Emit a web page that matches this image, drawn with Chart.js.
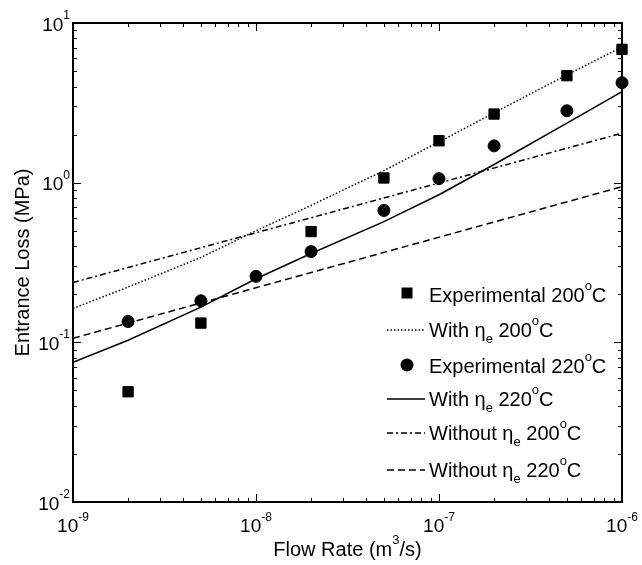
<!DOCTYPE html>
<html>
<head>
<meta charset="utf-8">
<script src="https://cdn.jsdelivr.net/npm/chart.js@4.4.1/dist/chart.umd.min.js"></script>
<style>
  html, body { margin: 0; padding: 0; background: #fff; }
  #wrap { width: 642px; height: 565px; }
</style>
</head>
<body>
<div id="wrap"><canvas id="chart" width="642" height="565"></canvas></div>
<script>
// DATA (flow rate in m3/s, entrance loss in MPa)
const flowSquares = [2e-9, 5e-9, 2e-8, 5e-8, 1e-7, 2e-7, 5e-7, 1e-6];
const flowCircles = [2e-9, 5e-9, 1e-8, 2e-8, 5e-8, 1e-7, 2e-7, 5e-7, 1e-6];
const flowModel = [1e-9, 2e-9, 5e-9, 1e-8, 2e-8, 5e-8, 1e-7, 2e-7, 5e-7, 1e-6];
const flowEnds = [1e-9, 1e-6];

const exp200 = [0.049, 0.132, 0.494, 1.07, 1.83, 2.69, 4.68, 6.84];
const exp220 = [0.135, 0.182, 0.259, 0.37, 0.67, 1.06, 1.70, 2.82, 4.23];
const with200 = [0.163, 0.222, 0.34, 0.50, 0.72, 1.19, 1.80, 2.74, 4.73, 7.08];
const with220 = [0.075, 0.103, 0.166, 0.25, 0.36, 0.57, 0.84, 1.30, 2.36, 3.71];
const without200 = [0.237, 2.04];
const without220 = [0.106, 0.944];

// tick labels: 10^exp
const xTickExps = [-9, -8, -7, -6];
const yTickExps = [-2, -1, 0, 1];

const legendLabels = [
  [['Experimental 200', ''], ['o', 'sup'], ['C', '']],
  [['With \u03b7', ''], ['e', 'sub'], [' 200', ''], ['o', 'sup'], ['C', '']],
  [['Experimental 220', ''], ['o', 'sup'], ['C', '']],
  [['With \u03b7', ''], ['e', 'sub'], [' 220', ''], ['o', 'sup'], ['C', '']],
  [['Without \u03b7', ''], ['e', 'sub'], [' 200', ''], ['o', 'sup'], ['C', '']],
  [['Without \u03b7', ''], ['e', 'sub'], [' 220', ''], ['o', 'sup'], ['C', '']]
];
const legendKinds = ['square', [1.5, 2], 'circle', [], [6, 3, 2, 3], [7, 4]];

const FONT = '"Liberation Sans", Arial, sans-serif';

function pts(xs, ys) {
  return xs.map((x, i) => ({ x: x, y: ys[i] }));
}

function partFont(kind, size) {
  const s = kind ? Math.round(size * 0.65) : size;
  return s + 'px ' + FONT;
}

function partsWidth(ctx, parts, size) {
  let w = 0;
  parts.forEach(p => {
    ctx.font = partFont(p[1], size);
    w += ctx.measureText(p[0]).width;
  });
  return w;
}

// draws text with super/subscripts
function drawParts(ctx, parts, x, y, size, align, rotate) {
  ctx.save();
  ctx.translate(x, y);
  if (rotate) ctx.rotate(-Math.PI / 2);
  ctx.fillStyle = '#000';
  ctx.textBaseline = 'alphabetic';
  ctx.textAlign = 'left';
  const w = partsWidth(ctx, parts, size);
  let cx = align === 'center' ? -w / 2 : align === 'right' ? -w : 0;
  parts.forEach(p => {
    ctx.font = partFont(p[1], size);
    let dy = 0;
    if (p[1] === 'sup') dy = -size * 0.6;
    if (p[1] === 'sub') dy = size * 0.32;
    ctx.fillText(p[0], cx, dy);
    cx += ctx.measureText(p[0]).width;
  });
  ctx.restore();
}

const framePlugin = {
  id: 'frame',
  afterDatasetsDraw(chart) {
    const ctx = chart.ctx;
    const a = chart.chartArea;
    const xs = chart.scales.x;
    const ys = chart.scales.y;
    ctx.save();
    ctx.strokeStyle = '#000';

    // ticks, all four sides, pointing inward
    ctx.lineWidth = 1;
    ctx.beginPath();
    for (let e = -9; e < -6; e++) {
      for (let m = 1; m < 10; m++) {
        const px = Math.round(xs.getPixelForValue(m * Math.pow(10, e))) + 0.5;
        const len = m === 1 ? 8 : 4;
        ctx.moveTo(px, a.bottom); ctx.lineTo(px, a.bottom - len);
        ctx.moveTo(px, a.top); ctx.lineTo(px, a.top + len);
      }
    }
    for (let e = -2; e < 1; e++) {
      for (let m = 1; m < 10; m++) {
        const py = Math.round(ys.getPixelForValue(m * Math.pow(10, e))) + 0.5;
        const len = m === 1 ? 8 : 4;
        ctx.moveTo(a.left, py); ctx.lineTo(a.left + len, py);
        ctx.moveTo(a.right, py); ctx.lineTo(a.right - len, py);
      }
    }
    ctx.stroke();

    // box
    ctx.lineWidth = 2;
    ctx.strokeRect(a.left, a.top, a.right - a.left, a.bottom - a.top);

    // tick labels
    xTickExps.forEach(e => {
      const px = xs.getPixelForValue(Math.pow(10, e));
      drawParts(ctx, [['10', ''], [String(e), 'sup']], px, 532, 19, 'center');
    });
    yTickExps.forEach(e => {
      const py = ys.getPixelForValue(Math.pow(10, e));
      drawParts(ctx, [['10', ''], [String(e), 'sup']], 70, py + 7.5, 19, 'right');
    });

    // axis titles
    drawParts(ctx, [['Flow Rate (m', ''], ['3', 'sup'], ['/s)', '']], (a.left + a.right) / 2, 556, 20, 'center');
    drawParts(ctx, [['Entrance Loss (MPa)', '']], 29, (a.top + a.bottom) / 2, 20, 'center', true);

    // legend
    const rows = [295, 330, 366, 399, 433, 470];
    legendLabels.forEach((lab, i) => {
      const y = rows[i];
      const kind = legendKinds[i];
      ctx.fillStyle = '#000';
      if (kind === 'square') {
        ctx.fillRect(407 - 5.5, y - 2 - 5.5, 11, 11);
      } else if (kind === 'circle') {
        ctx.beginPath();
        ctx.arc(407, y - 1, 6.5, 0, Math.PI * 2);
        ctx.fill();
      } else {
        ctx.lineWidth = 1.5;
        ctx.setLineDash(kind);
        ctx.beginPath();
        ctx.moveTo(387, y);
        ctx.lineTo(425, y);
        ctx.stroke();
        ctx.setLineDash([]);
      }
      drawParts(ctx, lab, 429, y + 7, 20, 'left');
    });
    ctx.restore();
  }
};

function lineSet(data, dash) {
  return {
    data: data,
    showLine: true,
    borderColor: '#000',
    borderWidth: 1.5,
    borderDash: dash,
    pointRadius: 0,
    fill: false,
    tension: 0,
    order: 2
  };
}

new Chart(document.getElementById('chart'), {
  type: 'scatter',
  data: {
    datasets: [
      {
        label: 'Experimental 200',
        data: pts(flowSquares, exp200),
        pointStyle: 'rect',
        pointRadius: 7.3,
        backgroundColor: '#000',
        borderColor: '#000',
        borderWidth: 1,
        clip: false,
        order: 1
      },
      lineSet(pts(flowModel, with200), [1.5, 2]),
      {
        label: 'Experimental 220',
        data: pts(flowCircles, exp220),
        pointStyle: 'circle',
        pointRadius: 6,
        backgroundColor: '#000',
        borderColor: '#000',
        borderWidth: 1,
        clip: false,
        order: 0
      },
      lineSet(pts(flowModel, with220), []),
      lineSet(pts(flowEnds, without200), [6, 3, 2, 3]),
      lineSet(pts(flowEnds, without220), [7, 4])
    ]
  },
  options: {
    responsive: false,
    animation: false,
    layout: { padding: { left: 73, top: 23, right: 20, bottom: 63 } },
    plugins: { legend: { display: false }, tooltip: { enabled: false } },
    scales: {
      x: { type: 'logarithmic', min: 1e-9, max: 1e-6, display: false },
      y: { type: 'logarithmic', min: 1e-2, max: 10, display: false }
    }
  },
  plugins: [framePlugin]
});
</script>
</body>
</html>
